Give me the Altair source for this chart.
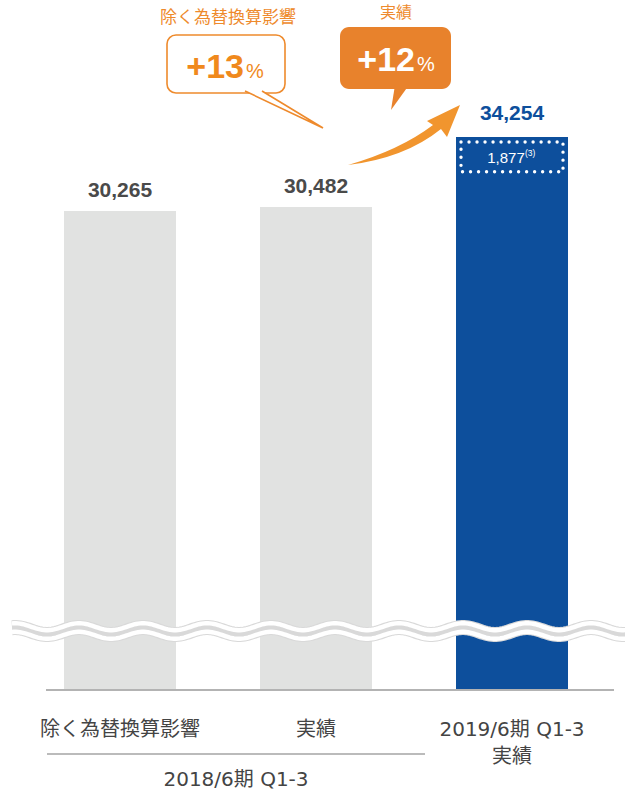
import math
import altair as alt
import pandas as pd

# ---- data -------------------------------------------------------------
categories = ["除く為替換算影響", "実績", "2019/6期 Q1-3\n実績"]
values = [30265, 30482, 34254]
highlight = "2019/6期 Q1-3\n実績"
inner_value = 1877          # portion shown inside the 2019 bar
inner_note = "(3)"
group_label = "2018/6期 Q1-3"
growth_fx = "+13"
growth_actual = "+12"
head_fx = "除く為替換算影響"
head_actual = "実績"

df = pd.DataFrame({"cat": categories, "value": values})
inner_df = pd.DataFrame({"cat": [highlight], "top": [values[2]], "inner": [inner_value]})
one = pd.DataFrame({"k": [0]})

# ---- styling ----------------------------------------------------------
GRAY_BAR = "#e1e2e1"
BLUE = "#0d4f9c"
DARK = "#4a4a4a"
ORANGE = "#ee8a2c"
ORANGE_FILL = "#e8822c"
ORANGE_TEXT = "#f0891c"
ARROW = "#f1952e"
LATIN = "Liberation Sans"
JP = "DejaVu Sans, Noto Sans CJK JP"

W, H = 625, 690

x_scale = alt.Scale(domain=categories, paddingInner=0.4286, paddingOuter=0.3087, align=0.529)
# broken axis: the visible range starts well above zero
y_scale = alt.Scale(domain=[4444, 41639], zero=False, nice=False)

base = alt.Chart(df)
X = alt.X("cat:N", scale=x_scale, axis=None, sort=categories)
Y = alt.Y("value:Q", scale=y_scale, axis=None)

bars = base.mark_bar(clip=True).encode(
    x=X, y=Y,
    color=alt.condition(alt.datum.cat == highlight, alt.value(BLUE), alt.value(GRAY_BAR)),
)

gray_labels = base.transform_filter(alt.datum.cat != highlight).mark_text(
    baseline="alphabetic", dy=-14, font=LATIN, fontSize=21, fontWeight="bold", color=DARK
).encode(x=X, y=Y, text=alt.Text("value:Q", format=","))

blue_label = base.transform_filter(alt.datum.cat == highlight).mark_text(
    baseline="alphabetic", dy=-17, font=LATIN, fontSize=21, fontWeight="bold", color=BLUE
).encode(x=X, y=Y, text=alt.Text("value:Q", format=","))

# dotted frame around the top segment of the 2019 bar
inner_box = alt.Chart(inner_df).transform_calculate(
    bottom="datum.top - datum.inner"
).mark_bar(
    size=102, fill="transparent", stroke="white", strokeWidth=3.4,
    strokeDash=[0.01, 8], strokeCap="round", yOffset=5
).encode(
    x=alt.X("cat:N", scale=x_scale, axis=None),
    y=alt.Y("top:Q", scale=y_scale, axis=None),
    y2="bottom:Q",
)
inner_text = alt.Chart(inner_df).mark_text(
    baseline="middle", dx=-6, dy=21, font=LATIN, fontSize=15, color="white"
).encode(
    x=alt.X("cat:N", scale=x_scale, axis=None),
    y=alt.Y("top:Q", scale=y_scale, axis=None),
    text=alt.Text("inner:Q", format=","),
)
inner_sup = alt.Chart(inner_df).mark_text(
    text=inner_note, align="left", baseline="middle", dx=13, dy=16,
    font=LATIN, fontSize=8.5, color="white"
).encode(
    x=alt.X("cat:N", scale=x_scale, axis=None),
    y=alt.Y("top:Q", scale=y_scale, axis=None),
)

# ---- axis break wave --------------------------------------------------
WAVE_CX, WAVE_CY, WAVE_UNIT = 326, 631, 314
pts = []
for px in range(12, 642, 2):
    ux = (px - WAVE_CX) / WAVE_UNIT
    uy = -3.5 * math.cos(2 * math.pi * (px - 15) / 64) / WAVE_UNIT
    pts.append(f"{ux:.4f},{uy:.4f}")
wave_path = "M" + " L".join(pts)
wave_size = (2 * WAVE_UNIT) ** 2


def wave(y, color, width):
    return alt.Chart(one).mark_point(
        shape=wave_path, size=wave_size, filled=False, stroke=color,
        strokeWidth=width, opacity=1, strokeCap="butt"
    ).encode(x=alt.value(WAVE_CX), y=alt.value(y))


waves = [
    wave(WAVE_CY, "#d9d9d9", 15),
    wave(WAVE_CY - 4.3, "white", 4.4),
    wave(WAVE_CY + 4.3, "white", 4.4),
]

# ---- base lines and category labels ----------------------------------
baseline = alt.Chart(one).mark_rule(color="#b3b3b3", strokeWidth=2).encode(
    x=alt.value(46), x2=alt.value(614), y=alt.value(690)
)
group_rule = alt.Chart(one).mark_rule(color="#a5a5a5", strokeWidth=1.5).encode(
    x=alt.value(47), x2=alt.value(425), y=alt.value(754)
)
cat_labels = base.mark_text(
    baseline="top", lineBreak="\n", lineHeight=27, font=JP, fontSize=20, color="#444444"
).encode(x=X, y=alt.value(720), text="cat:N")
group_text = alt.Chart(one).mark_text(
    text=group_label, baseline="middle", font=JP, fontSize=20, color="#444444"
).encode(x=alt.value(236), y=alt.value(780))

# ---- growth callouts --------------------------------------------------
head1 = alt.Chart(one).mark_text(
    text=head_fx, baseline="middle", font="Noto Sans CJK JP", fontSize=17, color=ORANGE
).encode(x=alt.value(228), y=alt.value(18))
head2 = alt.Chart(one).mark_text(
    text=head_actual, baseline="middle", font="Noto Sans CJK JP", fontSize=16, color=ORANGE
).encode(x=alt.value(396), y=alt.value(12.5))

bubble1 = alt.Chart(one).mark_rect(
    cornerRadius=9, fill="white", stroke=ORANGE, strokeWidth=1.6
).encode(x=alt.value(167), x2=alt.value(285), y=alt.value(35), y2=alt.value(93))
tail1 = alt.Chart(one).mark_point(
    shape="M-0.39,-0.19 L0.39,0.18 L-0.22,-0.19", size=40000, filled=True,
    fill="white", stroke=ORANGE, strokeWidth=1.6, opacity=1
).encode(x=alt.value(284), y=alt.value(110))
txt1 = alt.Chart(one).mark_text(
    text=growth_fx, align="right", baseline="alphabetic", font=LATIN,
    fontSize=34, fontWeight="bold", color=ORANGE_TEXT
).encode(x=alt.value(244), y=alt.value(78))
pct1 = alt.Chart(one).mark_text(
    text="%", align="left", baseline="alphabetic", font=LATIN,
    fontSize=20, color=ORANGE_TEXT
).encode(x=alt.value(246), y=alt.value(78))

bubble2 = alt.Chart(one).mark_rect(cornerRadius=9, fill=ORANGE_FILL).encode(
    x=alt.value(340), x2=alt.value(451), y=alt.value(27), y2=alt.value(89)
)
tail2 = alt.Chart(one).mark_point(
    shape="M-0.05,-0.14 L-0.09,0.11 L0.09,-0.14 Z", size=40000, filled=True,
    fill=ORANGE_FILL, opacity=1
).encode(x=alt.value(400), y=alt.value(99))
txt2 = alt.Chart(one).mark_text(
    text=growth_actual, align="right", baseline="alphabetic", font=LATIN,
    fontSize=34, fontWeight="bold", color="white"
).encode(x=alt.value(415), y=alt.value(71))
pct2 = alt.Chart(one).mark_text(
    text="%", align="left", baseline="alphabetic", font=LATIN,
    fontSize=20, color="white"
).encode(x=alt.value(417), y=alt.value(71))

arrow = alt.Chart(one).mark_point(
    shape="M-0.56,0.30 Q-0.04,0.15 0.29,-0.10 L0.23,-0.14 L0.56,-0.30 "
          "L0.43,0.02 L0.37,-0.06 Q0.01,0.23 -0.56,0.30 Z",
    size=40000, filled=True, fill=ARROW, opacity=1
).encode(x=alt.value(404), y=alt.value(135))

chart = alt.layer(
    bars, *waves, baseline, gray_labels, blue_label, inner_box, inner_text, inner_sup,
    cat_labels, group_rule, group_text,
    head1, head2, bubble1, tail1, txt1, pct1, bubble2, tail2, txt2, pct2, arrow,
).properties(
    width=W, height=H,
    padding={"left": 0, "top": 0, "right": 0, "bottom": 100},
    autosize=alt.AutoSizeParams(type="none"),
    background="white",
).configure_view(stroke=None)

chart.save("out.html", embed_options={"renderer": "svg", "actions": False})
